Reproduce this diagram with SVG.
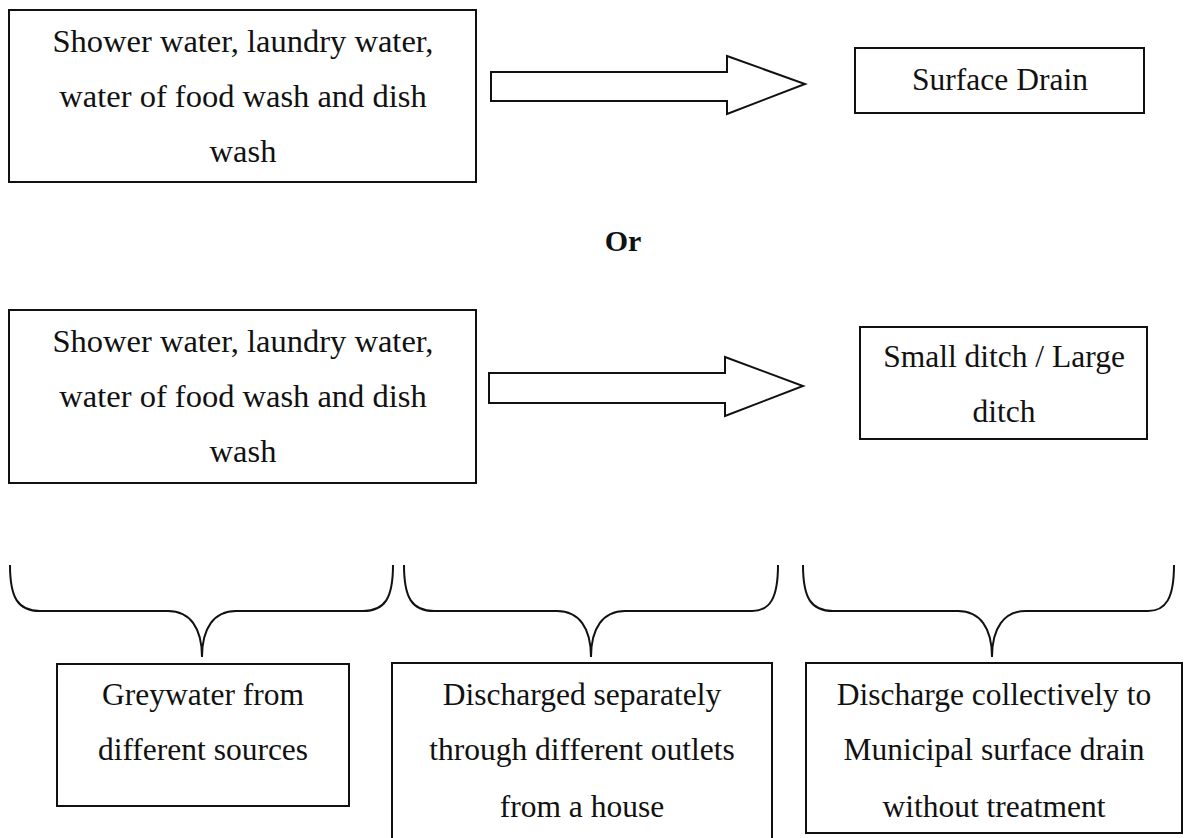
<svg xmlns="http://www.w3.org/2000/svg" width="1185" height="838" viewBox="0 0 1185 838">
<style>
.box{fill:#fff;stroke:#111;stroke-width:2}
.arrow{fill:#fff;stroke:#111;stroke-width:2;stroke-linejoin:miter}
.brace{fill:none;stroke:#111;stroke-width:2}
text{font-family:"Liberation Serif","Times New Roman",serif;font-size:31.5px;fill:#111;text-anchor:middle}
.big{font-size:32.5px}
.bold{font-weight:bold;font-size:30px}
</style>
<rect width="1185" height="838" fill="#fff"/>
<g id="src1">
<rect class="box" x="9" y="10" width="467" height="172"/>
<text class="big" x="243" y="52">Shower water, laundry water,</text>
<text class="big" x="243" y="107">water of food wash and dish</text>
<text class="big" x="243" y="162">wash</text>
</g>
<g id="surface-drain">
<rect class="box" x="855" y="48" width="289" height="65"/>
<text x="1000" y="90">Surface Drain</text>
</g>
<g id="or">
<text class="bold" x="623" y="251">Or</text>
</g>
<g id="src2">
<rect class="box" x="9" y="310" width="467" height="173"/>
<text class="big" x="243" y="352">Shower water, laundry water,</text>
<text class="big" x="243" y="407">water of food wash and dish</text>
<text class="big" x="243" y="462">wash</text>
</g>
<g id="ditch">
<rect class="box" x="860" y="327" width="287" height="112"/>
<text x="1004" y="367">Small ditch / Large</text>
<text x="1004" y="422">ditch</text>
</g>
<g id="greywater">
<rect class="box" x="57" y="664" width="292" height="142"/>
<text x="203" y="705">Greywater from</text>
<text x="203" y="760">different sources</text>
</g>
<g id="separately">
<rect class="box" x="392" y="663" width="380" height="180"/>
<text x="582" y="705">Discharged separately</text>
<text x="582" y="760">through different outlets</text>
<text x="582" y="817">from a house</text>
</g>
<g id="collectively">
<rect class="box" x="806" y="663" width="376" height="170"/>
<text x="994" y="705">Discharge collectively to</text>
<text x="994" y="760">Municipal surface drain</text>
<text x="994" y="817">without treatment</text>
</g>
<g id="connectors">
<polygon class="arrow" points="491,72 727,72 727,56 805,84 727,114 727,101 491,101"/>
<polygon class="arrow" points="489,373 725,373 725,357 803,386 725,416 725,403 489,403"/>
<path class="brace" d="M10,565 C10,598 18,611 40,611 L168,611 C190,611 202,628 202,657 C202,628 214,611 236,611 L363,611 C385,611 393,598 393,565"/>
<path class="brace" d="M404,565 C404,598 412,611 434,611 L557,611 C579,611 591,628 591,657 C591,628 603,611 625,611 L752,611 C770,611 778,598 778,565"/>
<path class="brace" d="M803,565 C803,598 811,611 833,611 L958,611 C980,611 992,628 992,657 C992,628 1004,611 1026,611 L1148,611 C1166,611 1174,598 1174,565"/>
</g>
</svg>
